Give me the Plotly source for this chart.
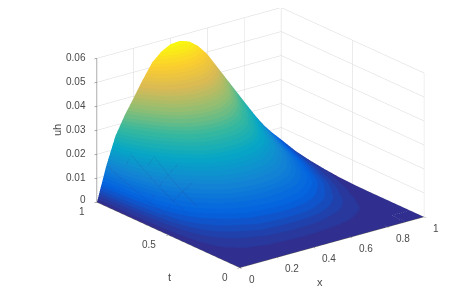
import numpy as np
import plotly.graph_objects as go

x_values = [0, .05, .1, .15, .2, .25, .3, .35, .4, .45, .5, .55, .6, .65, .7, .75, .8, .85, .9, .95, 1]
t_values = [0, .1, .2, .3, .4, .5, .6, .7, .8, .9, 1]
# uh in units of 1e-4, one row per t
uh_rows = [
 [0]*21,
 [0,2,3,5,6,8,8,9,10,10,9,8,7,6,5,3,2,1,0,0,0],
 [0,7,12,18,22,26,30,31,32,32,32,31,28,24,20,15,11,7,3,1,0],
 [0,13,25,35,42,50,58,61,64,65,65,62,58,50,42,32,23,13,6,2,0],
 [0,23,42,57,70,83,92,99,103,105,103,100,94,83,69,54,38,24,12,4,0],
 [0,35,65,87,105,122,138,148,154,156,154,148,139,124,105,84,62,41,23,9,1],
 [0,50,91,119,142,167,188,202,210,212,209,201,186,165,141,114,86,59,36,17,4],
 [0,68,124,162,194,226,256,274,284,286,281,268,248,219,188,153,118,84,54,29,10],
 [0,90,163,212,253,294,333,355,368,370,362,342,314,275,235,193,152,110,73,43,18],
 [0,114,207,268,320,373,421,450,466,468,458,433,397,348,298,248,197,146,100,62,30],
 [0,140,255,330,395,460,520,555,575,578,565,535,490,430,370,310,250,190,135,90,50],
]
x_ticks = [0, .2, .4, .6, .8, 1]
x_ticklabels = ["0", "0.2", "0.4", "0.6", "0.8", "1"]
t_ticks = [0, .5, 1]
t_ticklabels = ["0", "0.5", "1"]
z_ticks = [0, .01, .02, .03, .04, .05, .06]
z_ticklabels = ["0", "0.01", "0.02", "0.03", "0.04", "0.05", "0.06"]

anchors = ["#352A87", "#0363E1", "#1485D4", "#06A7C6", "#38B99E", "#92BF73", "#D9BA56", "#FCCE2E", "#F9FB0E"]
rgb = np.array([[int(c[i:i+2], 16) for i in (1, 3, 5)] for c in anchors], float)
n = 48
scale = []
for i in range(n):
    p = (i + .5) / n * (len(anchors) - 1)
    k_ = int(p)
    col = rgb[k_] + (rgb[min(k_ + 1, len(anchors) - 1)] - rgb[k_]) * (p - k_)
    s = "rgb(%d,%d,%d)" % tuple(col)
    scale += [[i / n, s], [(i + 1) / n, s]]

z = np.array(uh_rows) / 1e4
fig = go.Figure(go.Surface(x=x_values, y=t_values, z=z, colorscale=scale, showscale=False,
                           cmin=0, cmax=float(z.max()),
                           lighting=dict(ambient=1, diffuse=0, specular=0, fresnel=0),
                           hoverinfo="skip"))

# faint mesh edges on the lower steep part of the surface, taken from the same table
mx, my, mz = [], [], []
for j in range(6, 11):      # along x, at fixed t
    for i in range(0, 5):
        if z[j, i] < .022:
            mx.append(x_values[i] + .003); my.append(t_values[j] - .006); mz.append(z[j, i] + .0006)
    mx.append(None); my.append(None); mz.append(None)
for i in range(1, 4):       # along t, at fixed x
    for j in range(5, 11):
        if z[j, i] < .022:
            mx.append(x_values[i] - .003); my.append(t_values[j] - .006); mz.append(z[j, i] + .0006)
    mx.append(None); my.append(None); mz.append(None)
fig.add_trace(go.Scatter3d(x=mx, y=my, z=mz, mode="lines", opacity=.2,
                           line=dict(color="#3a2a7a", width=1), hoverinfo="skip", showlegend=False))

FONT = dict(family="Liberation Sans", size=10, color="#4a4a4a")
TFONT = dict(family="Liberation Sans", size=11, color="#4a4a4a")
ax = dict(showbackground=False, gridcolor="#d8d8d8", gridwidth=1, showline=True, linecolor="#5a5a5a",
          linewidth=1, zeroline=False, ticks="outside", ticklen=3, tickcolor="#5a5a5a",
          showticklabels=False, showspikes=False, title=dict(text=""))

notes = []
for v, s in zip(x_ticks, x_ticklabels):
    notes.append(dict(x=v, y=0, z=0, text=s, showarrow=False, font=FONT, xanchor="left", yanchor="middle", xshift=7, yshift=-11))
for v, s in zip(t_ticks, t_ticklabels):
    notes.append(dict(x=0, y=v, z=0, text=s, showarrow=False, font=FONT, xanchor="right", yanchor="middle", xshift=-10, yshift=-9))
for v, s in zip(z_ticks, z_ticklabels):
    notes.append(dict(x=0, y=1, z=v, text=s, showarrow=False, font=FONT, xanchor="right", yanchor="middle", xshift=-9, yshift=3 if v == 0 else 1))
notes.append(dict(x=.5, y=0, z=0, text="x", showarrow=False, font=TFONT, xshift=-12, yshift=-39))
notes.append(dict(x=0, y=.5, z=0, text="t", showarrow=False, font=TFONT, xshift=1, yshift=-42))
notes.append(dict(x=0, y=1, z=.03, text="uh", showarrow=False, font=TFONT, textangle=-90, xshift=-39, yshift=0))

r = 1.9
k = 1.74
dz = -.035
e = np.array([-.5723, -.7379, .3551]) * r
fig.update_layout(
    width=452, height=296, margin=dict(l=0, r=0, t=0, b=0), paper_bgcolor="white",
    scene=dict(
        domain=dict(x=[.134, .982], y=[.093, 1.0]),
        aspectmode="manual", aspectratio=dict(x=k, y=k, z=.66 * k),
        camera=dict(projection=dict(type="orthographic"), eye=dict(x=e[0], y=e[1], z=e[2] + dz),
                    up=dict(x=0, y=0, z=1), center=dict(x=0, y=0, z=dz)),
        xaxis=dict(ax, range=[0, 1], tickvals=x_ticks),
        yaxis=dict(ax, range=[0, 1], tickvals=t_ticks),
        zaxis=dict(ax, range=[0, .06], tickvals=z_ticks),
        annotations=notes,
    ),
)
fig.write_html("out.html")
